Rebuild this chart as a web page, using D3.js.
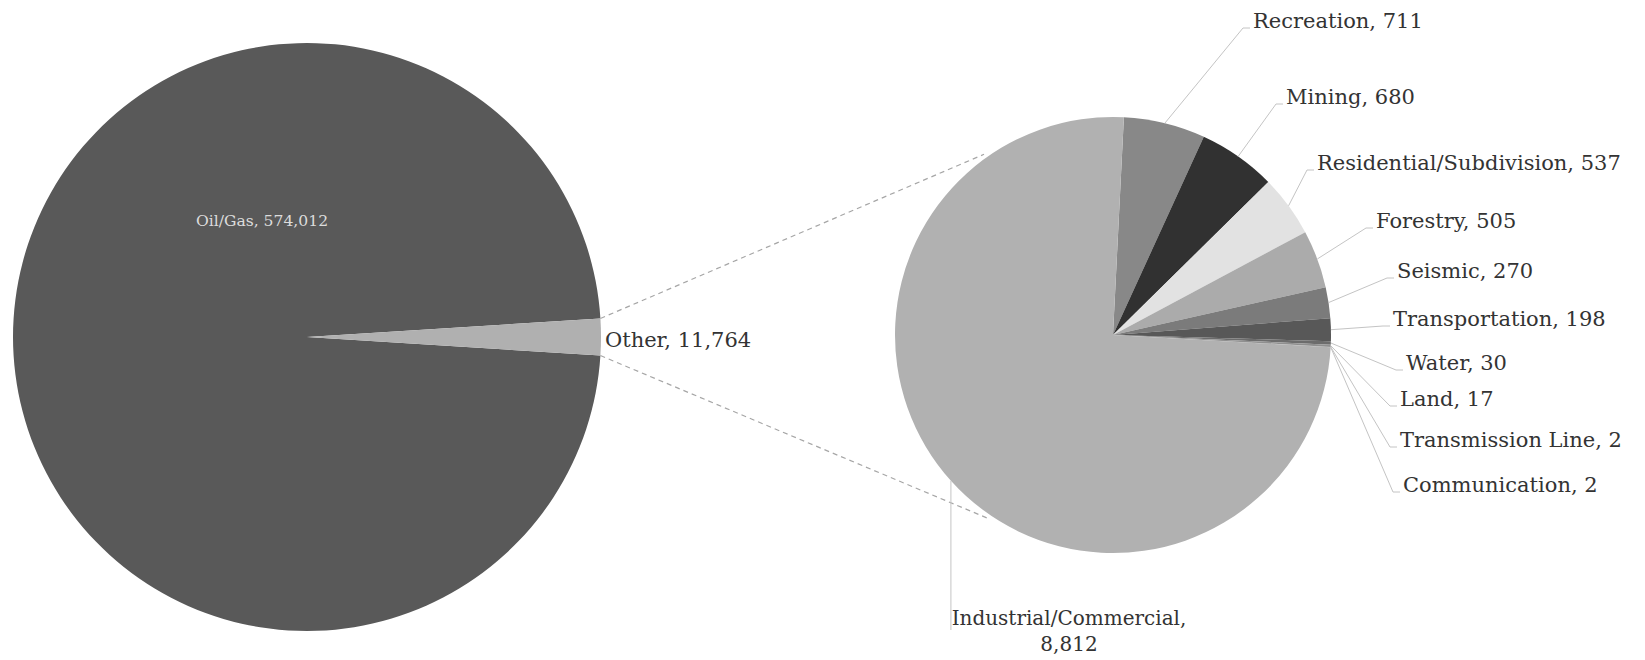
<!DOCTYPE html>
<html>
<head>
<meta charset="utf-8">
<script src="https://cdn.jsdelivr.net/npm/d3@7"></script>
<style>
  body { margin: 0; background: #fff; }
  text { font-family: 'DejaVu Serif', serif; }
</style>
</head>
<body>
<div id="chart"></div>
<script>
// Datos del grafico principal
const mainLabels = ['Oil/Gas', 'Other'];
const mainValues = [574012, 11764];

// Datos del desglose de "Other"
const otherLabels = ['Recreation', 'Mining', 'Residential/Subdivision', 'Forestry', 'Seismic',
                     'Transportation', 'Water', 'Land', 'Transmission Line', 'Communication',
                     'Industrial/Commercial'];
const otherValues = [711, 680, 537, 505, 270, 198, 30, 17, 2, 2, 8812];

// Colores
const mainColors = ['#595959', '#b0b0b0'];
const otherColors = ['#888888', '#313131', '#e2e2e2', '#ababab', '#7b7b7b', '#585858',
                     '#6c6c6c', '#8f8f8f', '#4a4a4a', '#9a9a9a', '#b1b1b1'];

// Posicion de las etiquetas (inicio del texto, centro vertical)
const labelPos = [[1253, 21], [1286, 97], [1317, 163], [1376, 221], [1397, 271],
                  [1393, 319], [1406, 363], [1400, 399], [1400, 440], [1403, 485]];

const width = 1645, height = 660;
const fmt = d3.format(',');
const labelSize = '21px';

const svg = d3.select('#chart')
              .append('svg')
              .attr('width', width)
              .attr('height', height)
              .style('background-color', '#fff');

// Pie principal
const mainC = [307, 337], mainR = 294;
const otherShare = mainValues[1] / d3.sum(mainValues) * 2 * Math.PI;
const mainPie = d3.pie().sort(null)
                  .startAngle(Math.PI / 2 + otherShare / 2)
                  .endAngle(Math.PI / 2 + otherShare / 2 + 2 * Math.PI);
const mainArcs = mainPie(mainValues);
const mainArc = d3.arc().innerRadius(0).outerRadius(mainR);

const gMain = svg.append('g').attr('transform', `translate(${mainC[0]}, ${mainC[1]})`);
gMain.selectAll('path')
     .data(mainArcs)
     .enter()
     .append('path')
     .attr('d', mainArc)
     .attr('fill', (d, i) => mainColors[i]);

// Pie secundario
const subC = [1113, 335], subR = 218;
const subPie = d3.pie().sort(null).startAngle(0.05).endAngle(0.05 + 2 * Math.PI);
const subArcs = subPie(otherValues);
const subArc = d3.arc().innerRadius(0).outerRadius(subR);

const gSub = svg.append('g').attr('transform', `translate(${subC[0]}, ${subC[1]})`);
gSub.selectAll('path')
    .data(subArcs)
    .enter()
    .append('path')
    .attr('d', subArc)
    .attr('fill', (d, i) => otherColors[i]);

// Lineas de conexion entre los dos pies
const otherArc = mainArcs[1];
const p1 = d3.pointRadial(otherArc.startAngle, mainR);
const p2 = d3.pointRadial(otherArc.endAngle, mainR);
const q1 = d3.pointRadial(-0.62, subR + 4);
const q2 = d3.pointRadial(Math.PI + 0.6, subR + 4);
[[p1, q1], [p2, q2]].forEach(([p, q]) => {
    svg.append('line')
       .attr('x1', mainC[0] + p[0]).attr('y1', mainC[1] + p[1])
       .attr('x2', subC[0] + q[0]).attr('y2', subC[1] + q[1])
       .attr('stroke', '#a6a6a6')
       .attr('stroke-width', 1.2)
       .attr('stroke-dasharray', '5,4');
});

// Etiquetas del pie principal
svg.append('text')
   .attr('x', 262).attr('y', 221).attr('dy', '0.35em')
   .attr('text-anchor', 'middle')
   .attr('fill', '#dcdcdc')
   .style('font-size', '15.6px')
   .text(`${mainLabels[0]}, ${fmt(mainValues[0])}`);

svg.append('text')
   .attr('x', 605).attr('y', 340).attr('dy', '0.35em')
   .attr('fill', '#333')
   .style('font-size', labelSize)
   .text(`${mainLabels[1]}, ${fmt(mainValues[1])}`);

// Etiquetas y lineas guia del pie secundario
const leader = d3.line();
subArcs.slice(0, labelPos.length).forEach((d, i) => {
    const mid = (d.startAngle + d.endAngle) / 2;
    const s = d3.pointRadial(mid, subR);
    const [lx, ly] = labelPos[i];
    svg.append('path')
       .attr('d', leader([[subC[0] + s[0], subC[1] + s[1]], [lx - 10, ly + 7], [lx - 3, ly + 7]]))
       .attr('fill', 'none')
       .attr('stroke', '#c4c4c4')
       .attr('stroke-width', 1);
    svg.append('text')
       .attr('x', lx).attr('y', ly).attr('dy', '0.35em')
       .attr('fill', '#333')
       .style('font-size', labelSize)
       .text(`${otherLabels[i]}, ${fmt(otherValues[i])}`);
});

// Industrial/Commercial: etiqueta debajo del pie
const ind = subArcs[subArcs.length - 1];
const sInd = d3.pointRadial((ind.startAngle + ind.endAngle) / 2, subR);
svg.append('path')
   .attr('d', leader([[subC[0] + sInd[0], subC[1] + sInd[1]], [subC[0] + sInd[0], 630]]))
   .attr('fill', 'none')
   .attr('stroke', '#c4c4c4')
   .attr('stroke-width', 1);

const indX = 1069;
const indText = svg.append('text')
                   .attr('x', indX).attr('y', 618)
                   .attr('text-anchor', 'middle')
                   .attr('fill', '#333')
                   .style('font-size', '20px');
indText.append('tspan').attr('x', indX).attr('dy', '0.35em')
       .text(`${otherLabels[otherLabels.length - 1]},`);
indText.append('tspan').attr('x', indX).attr('dy', '1.3em')
       .text(fmt(otherValues[otherValues.length - 1]));
</script>
</body>
</html>
